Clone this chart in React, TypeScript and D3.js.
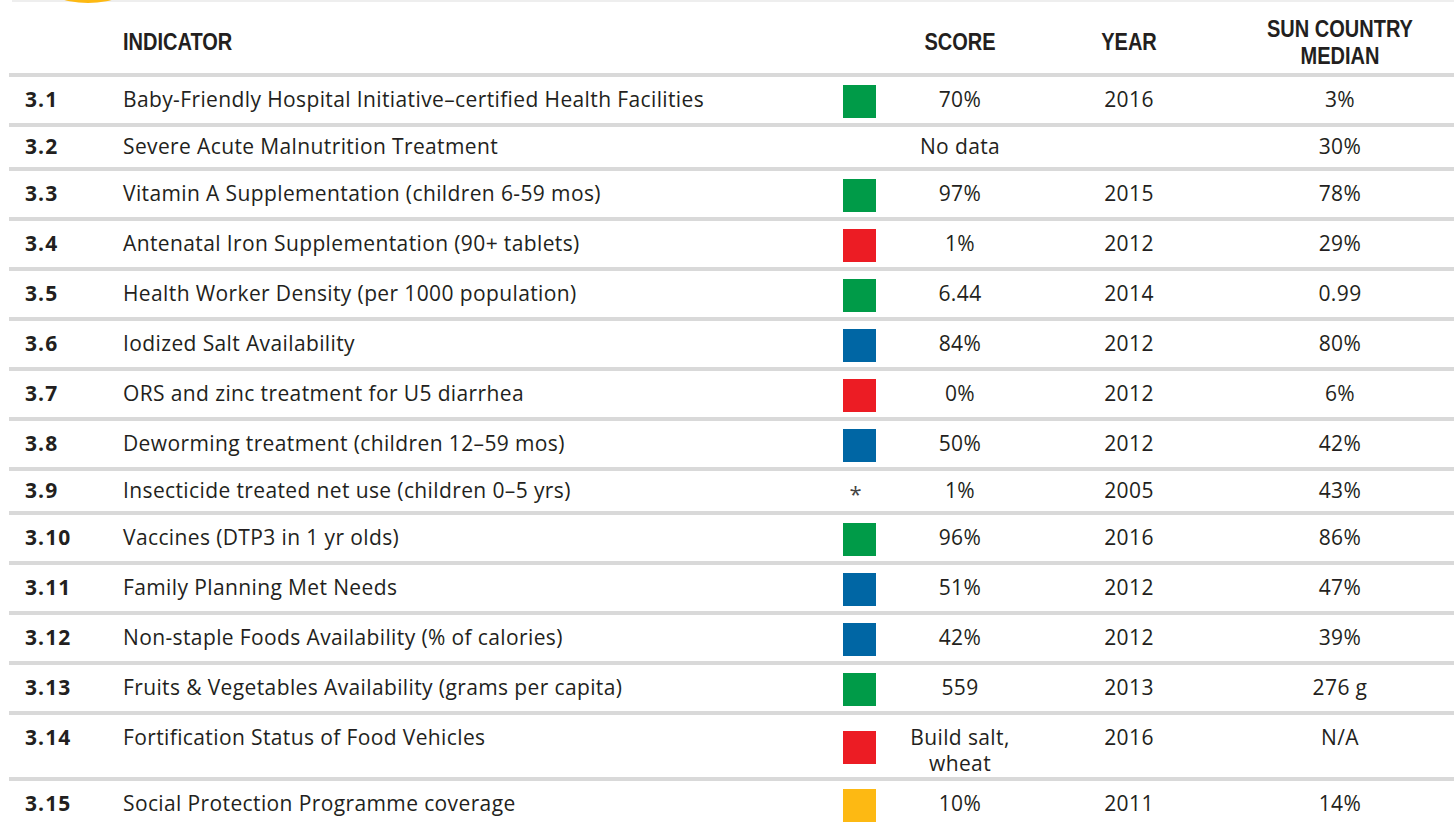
import React from 'react';
import * as d3 from 'd3';

// Table content
const codes = ['3.1', '3.2', '3.3', '3.4', '3.5', '3.6', '3.7', '3.8', '3.9', '3.10', '3.11', '3.12', '3.13', '3.14', '3.15'];

const indicators = [
  'Baby-Friendly Hospital Initiative\u2013certified Health Facilities',
  'Severe Acute Malnutrition Treatment',
  'Vitamin A Supplementation (children 6-59 mos)',
  'Antenatal Iron Supplementation (90+ tablets)',
  'Health Worker Density (per 1000 population)',
  'Iodized Salt Availability',
  'ORS and zinc treatment for U5 diarrhea',
  'Deworming treatment (children 12\u201359 mos)',
  'Insecticide treated net use (children 0\u20135 yrs)',
  'Vaccines (DTP3 in 1 yr olds)',
  'Family Planning Met Needs',
  'Non-staple Foods Availability (% of calories)',
  'Fruits & Vegetables Availability (grams per capita)',
  'Fortification Status of Food Vehicles',
  'Social Protection Programme coverage',
];

const statuses = ['green', 'none', 'green', 'red', 'green', 'blue', 'red', 'blue', 'star', 'green', 'blue', 'blue', 'green', 'red', 'yellow'];

const scores = ['70%', 'No data', '97%', '1%', '6.44', '84%', '0%', '50%', '1%', '96%', '51%', '42%', '559', 'Build salt,\nwheat', '10%'];

const years = ['2016', '', '2015', '2012', '2014', '2012', '2012', '2012', '2005', '2016', '2012', '2012', '2013', '2016', '2011'];

const medians = ['3%', '30%', '78%', '29%', '0.99', '80%', '6%', '42%', '43%', '86%', '47%', '39%', '276 g', 'N/A', '14%'];

const headers = ['INDICATOR', 'SCORE', 'YEAR', 'SUN COUNTRY\nMEDIAN'];

const WIDTH = 1454;
const HEIGHT = 825;
const TEXT = '#231f20';
const BODY_FONT = "'Open Sans', 'Liberation Sans', Arial, sans-serif";
const HEAD_FONT = "'Liberation Sans', Arial, sans-serif";

const statusColor = d3
  .scaleOrdinal<string, string>()
  .domain(['green', 'red', 'blue', 'yellow'])
  .range(['#009b48', '#ec1c24', '#0066a4', '#fdb913']);

// column anchors
const colX = d3
  .scaleOrdinal<string, number>()
  .domain(['code', 'indicator', 'status', 'score', 'year', 'median'])
  .range([25, 123, 859.5, 960, 1129, 1340]);

const HeadText = ({ x, y, anchor = 'middle', children }) => (
  <text
    transform={`translate(${x},${y}) scale(0.87,1)`}
    textAnchor={anchor}
    fontFamily={HEAD_FONT}
    fontWeight="bold"
    fontSize={23}
    fill={TEXT}
  >
    {children}
  </text>
);

const App = () => {
  const headerBottom = 73;
  const sep = 4;
  const rows = codes.map((c, i) => {
    const lines = scores[i].split('\n');
    const base = statuses[i] === 'none' || statuses[i] === 'star' ? 40 : 46;
    const h = base + (lines.length - 1) * 16;
    return { i, h, lines };
  });
  const offsets = d3.cumsum(rows, (r) => r.h + sep);
  const tops = rows.map((r, i) => headerBottom + (i === 0 ? 0 : offsets[i - 1]));

  const headerBaseline = 50;
  const sq = 33;
  const body = { fontFamily: BODY_FONT, fontSize: 21, letterSpacing: 0.38, fill: TEXT };

  return (
    <svg
      width={WIDTH}
      height={HEIGHT}
      style={{ position: 'absolute', left: 0, top: 0, background: '#fff' }}
    >
      {/* top decoration */}
      <rect x={12} y={0} width={WIDTH - 12} height={2} fill="#eeeeee" />
      <circle cx={88} cy={-91} r={94} fill="#fdb913" />

      {/* header */}
      <HeadText x={colX('indicator')} y={headerBaseline} anchor="start">{headers[0]}</HeadText>
      <HeadText x={colX('score')} y={headerBaseline}>{headers[1]}</HeadText>
      <HeadText x={colX('year')} y={headerBaseline}>{headers[2]}</HeadText>
      {headers[3].split('\n').map((t, k) => (
        <HeadText key={k} x={colX('median')} y={37 + k * 27}>{t}</HeadText>
      ))}

      {rows.map((r, i) => {
        const top = tops[i];
        const ct = top + sep;
        const baseline = ct + Math.min(r.h, 46) / 2 + 7;
        const st = statuses[i];
        return (
          <g key={codes[i]}>
            <rect x={9} y={top} width={WIDTH - 9} height={sep} fill="#d9d9d9" />
            <text x={colX('code')} y={baseline} fontFamily={BODY_FONT} fontWeight="bold" fontSize={21} letterSpacing={1.1} fill={TEXT}>
              {codes[i]}
            </text>
            <text x={colX('indicator')} y={baseline} {...body}>
              {indicators[i]}
            </text>
            {st !== 'none' && st !== 'star' && (
              <rect
                x={colX('status') - sq / 2}
                y={ct + r.h / 2 + 1.5 - sq / 2}
                width={sq}
                height={sq}
                fill={statusColor(st)}
              />
            )}
            {st === 'star' && (
              <text x={colX('status') - 4} y={baseline + 4} textAnchor="middle" fontFamily={BODY_FONT} fontSize={22} fill="#444">
                *
              </text>
            )}
            {r.lines.map((t, k) => (
              <text key={k} x={colX('score')} y={baseline + k * 26} textAnchor="middle" {...body}>
                {t}
              </text>
            ))}
            <text x={colX('year')} y={baseline} textAnchor="middle" {...body}>
              {years[i]}
            </text>
            <text x={colX('median')} y={baseline} textAnchor="middle" {...body}>
              {medians[i]}
            </text>
          </g>
        );
      })}
    </svg>
  );
};

export default App;
